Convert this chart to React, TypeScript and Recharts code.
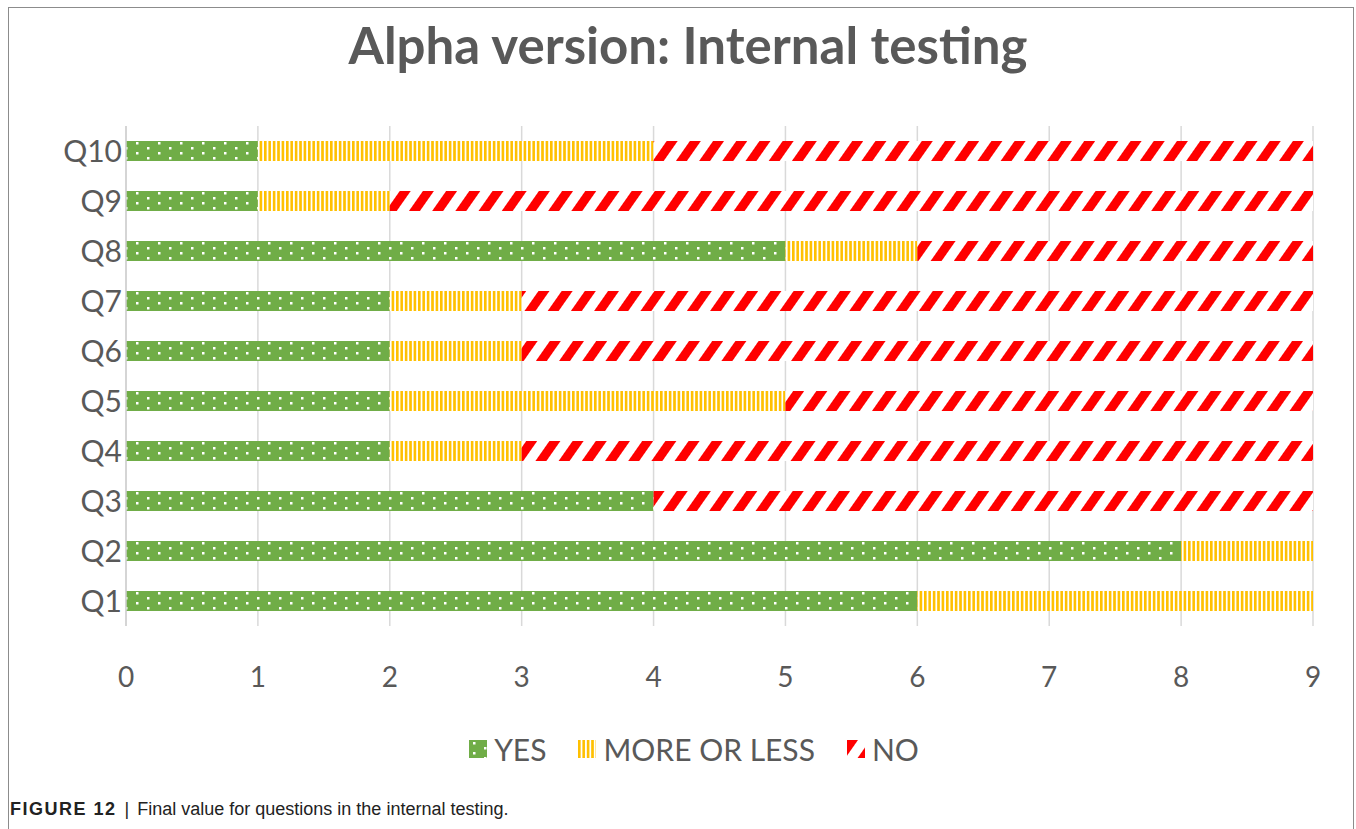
import { BarChart, Bar, XAxis, YAxis, CartesianGrid } from 'recharts';

const questions = ['Q10', 'Q9', 'Q8', 'Q7', 'Q6', 'Q5', 'Q4', 'Q3', 'Q2', 'Q1'];
const yes = [1, 1, 5, 2, 2, 2, 2, 4, 8, 6];
const moreOrLess = [3, 1, 1, 1, 1, 3, 1, 0, 1, 3];
const no = [5, 7, 3, 6, 6, 4, 6, 5, 0, 0];
const xTicks = [0, 1, 2, 3, 4, 5, 6, 7, 8, 9];

const data = questions.map((q, i) => ({
  q,
  yes: yes[i],
  more: moreOrLess[i],
  no: no[i],
}));

const textColor = '#595959';
const font = 'Lato, "Open Sans", sans-serif';

const legendItems = [
  { label: 'YES', fill: 'url(#dotsGreen)' },
  { label: 'MORE OR LESS', fill: 'url(#stripesYellow)' },
  { label: 'NO', fill: 'url(#diagRed)' },
];

function Patterns() {
  return (
    <svg width={0} height={0} style={{ position: 'absolute' }}>
      <defs>
        <pattern id="dotsGreen" patternUnits="userSpaceOnUse" width={22} height={10}>
          <rect width={22} height={10} fill="#70AD47" />
          <rect x={4} y={2} width={2.5} height={2.5} fill="#fff" />
          <rect x={15} y={7} width={2.5} height={2.5} fill="#fff" />
        </pattern>
        <pattern id="stripesYellow" patternUnits="userSpaceOnUse" width={4.4} height={10}>
          <rect width={4.4} height={10} fill="#fff" />
          <rect width={2.6} height={10} fill="#FFC000" />
        </pattern>
        <pattern
          id="diagRed"
          patternUnits="userSpaceOnUse"
          width={19}
          height={10}
          patternTransform="rotate(35)"
        >
          <rect width={19} height={10} fill="#fff" />
          <rect width={9} height={10} fill="#FF0000" />
        </pattern>
      </defs>
    </svg>
  );
}

export default function App() {
  return (
    <div style={{ position: 'absolute', left: 0, top: 0, width: 1356, height: 829, background: '#fff', overflow: 'hidden' }}>
      <Patterns />
      <div
        style={{
          position: 'absolute',
          left: 8,
          top: 7,
          width: 1344,
          height: 840,
          borderLeft: '1.5px solid #8c8c8c',
          borderTop: '1.5px solid #8c8c8c',
          borderRight: '1.5px solid #8c8c8c',
        }}
      />
      <div
        style={{
          position: 'absolute',
          left: 0,
          width: 1376,
          top: 14,
          textAlign: 'center',
          fontFamily: font,
          fontWeight: 700,
          fontSize: 51,
          color: textColor,
        }}
      >
        Alpha version: Internal testing
      </div>
      <div style={{ position: 'absolute', left: 0, top: 0 }}>
        <BarChart
          width={1356}
          height={700}
          data={data}
          layout="vertical"
          barSize={20}
          margin={{ top: 126, right: 43, bottom: 10, left: 0 }}
        >
          <CartesianGrid horizontal={false} stroke="#d9d9d9" strokeWidth={1.5} />
          <XAxis
            type="number"
            domain={[0, 9]}
            ticks={xTicks}
            axisLine={false}
            tickLine={false}
            tickSize={0}
            tickMargin={41}
            height={64}
            tick={{ fill: textColor, fontSize: 28, fontFamily: font }}
          />
          <YAxis
            type="category"
            dataKey="q"
            width={126}
            axisLine={{ stroke: '#d0d0d0', strokeWidth: 1.5 }}
            tickLine={false}
            tickSize={0}
            tickMargin={4}
            tick={{ fill: textColor, fontSize: 30, fontFamily: font }}
          />
          <Bar dataKey="yes" stackId="a" fill="url(#dotsGreen)" isAnimationActive={false} />
          <Bar dataKey="more" stackId="a" fill="url(#stripesYellow)" isAnimationActive={false} />
          <Bar dataKey="no" stackId="a" fill="url(#diagRed)" isAnimationActive={false} />
        </BarChart>
      </div>
      <div
        style={{
          position: 'absolute',
          left: 6,
          width: 1376,
          top: 731,
          display: 'flex',
          justifyContent: 'center',
          alignItems: 'center',
          fontFamily: font,
          fontSize: 30,
          color: textColor,
        }}
      >
        {legendItems.map((it) => (
          <div key={it.label} style={{ display: 'flex', alignItems: 'center', margin: '0 16px' }}>
            <svg width={18} height={18} style={{ marginRight: 7 }}>
              <rect width={18} height={18} fill={it.fill} />
            </svg>
            <span>{it.label}</span>
          </div>
        ))}
      </div>
      <div
        style={{
          position: 'absolute',
          left: 10,
          top: 799,
          fontFamily: '"Liberation Sans", Arial, sans-serif',
          fontSize: 18,
          color: '#222',
        }}
      >
        <b style={{ letterSpacing: 1.5 }}>FIGURE 12</b> <span style={{ margin: '0 3px' }}>|</span> Final value for questions in the internal testing.
      </div>
    </div>
  );
}
